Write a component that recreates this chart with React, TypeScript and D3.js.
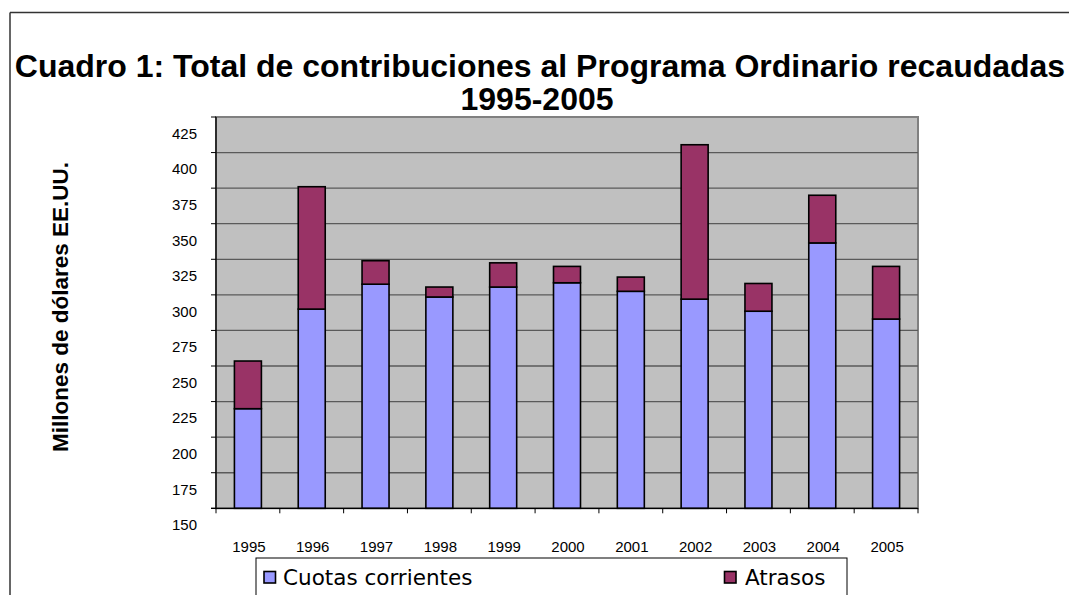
import React from "react";
import * as d3 from "d3";

const years = ["1995","1996","1997","1998","1999","2000","2001","2002","2003","2004","2005"];
const cuotas = [220, 290, 307.5, 298.5, 305.5, 308.5, 302.5, 297, 288.5, 336.5, 283];
const atrasos = [33.5, 86, 16.5, 7, 17, 11.5, 10, 108.5, 19.5, 33.5, 37];
const yTicks = [150, 175, 200, 225, 250, 275, 300, 325, 350, 375, 400, 425];
const seriesNames = ["Cuotas corrientes", "Atrasos"];
const colors = ["#9999FF", "#993366"];

const W = 1069, H = 595;
const plot = { left: 216, top: 117, right: 918, bottom: 508.3 };

export default function App() {
  const x = d3.scaleBand<string>().domain(years).range([plot.left, plot.right]).paddingInner(0.577).paddingOuter(0.2885);
  const y = d3.scaleLinear().domain([150, 425]).range([plot.bottom, plot.top]);
  const step = x.step();
  const font = "'Liberation Sans', Arial, sans-serif";
  const legendFont = "'DejaVu Sans', Verdana, sans-serif";
  const stacked = years.map((yr, i) => ({ yr, c: cuotas[i], a: atrasos[i] }));
  return (
    <svg width={W} height={H} style={{ position: "fixed", left: 0, top: 0, background: "#fff" }}>
      {/* outer frame */}
      <line x1={10} y1={12.5} x2={W} y2={12.5} stroke="#333" strokeWidth={1.5} />
      <line x1={10} y1={12.5} x2={10} y2={H} stroke="#333" strokeWidth={1.5} />
      {/* title */}
      <text x={540} y={77} textAnchor="middle" fontFamily={font} fontWeight="bold" fontSize={32} fill="#000">
        Cuadro 1: Total de contribuciones al Programa Ordinario recaudadas
      </text>
      <text x={537} y={110} textAnchor="middle" fontFamily={font} fontWeight="bold" fontSize={32} fill="#000">
        1995-2005
      </text>
      {/* plot background */}
      <rect x={plot.left} y={plot.top} width={plot.right - plot.left} height={plot.bottom - plot.top} fill="#C0C0C0" stroke="#808080" strokeWidth={2} />
      {/* gridlines */}
      {yTicks.slice(1, -1).map(t => (
        <line key={t} x1={plot.left} x2={plot.right} y1={y(t)} y2={y(t)} stroke="#5a5a5a" strokeWidth={1.3} />
      ))}
      {/* bars */}
      {stacked.map(d => (
        <g key={d.yr}>
          <rect x={x(d.yr)} y={y(d.c)} width={x.bandwidth()} height={y(150) - y(d.c)} fill={colors[0]} stroke="#000" strokeWidth={1.6} />
          <rect x={x(d.yr)} y={y(d.c + d.a)} width={x.bandwidth()} height={y(d.c) - y(d.c + d.a)} fill={colors[1]} stroke="#000" strokeWidth={1.6} />
        </g>
      ))}
      {/* y axis */}
      <line x1={plot.left} x2={plot.left} y1={plot.top} y2={plot.bottom} stroke="#000" strokeWidth={1.3} />
      {yTicks.map(t => (
        <g key={t}>
          <line x1={plot.left - 5} x2={plot.left} y1={y(t)} y2={y(t)} stroke="#000" strokeWidth={1} />
          <text x={197} y={y(t) + 16.6} dy="0.35em" textAnchor="end" fontFamily={font} fontSize={15} fill="#000">{t}</text>
        </g>
      ))}
      {/* x axis */}
      <line x1={plot.left - 5} x2={plot.right} y1={plot.bottom} y2={plot.bottom} stroke="#000" strokeWidth={1.3} />
      {d3.range(years.length + 1).map(i => (
        <line key={i} x1={plot.left + i * step} x2={plot.left + i * step} y1={plot.bottom} y2={plot.bottom + 5} stroke="#000" strokeWidth={1} />
      ))}
      {years.map(yr => (
        <text key={yr} x={(x(yr) ?? 0) + x.bandwidth() / 2 + 1} y={546.7} dy="0.35em" textAnchor="middle" fontFamily={font} fontSize={15} fill="#000">{yr}</text>
      ))}
      {/* y title */}
      <text transform="translate(68,307) rotate(-90)" textAnchor="middle" fontFamily={font} fontWeight="bold" fontSize={22.5} fill="#000">
        Millones de dólares EE.UU.
      </text>
      {/* legend */}
      <rect x={256} y={558} width={591} height={50} fill="#fff" stroke="#000" strokeWidth={1} />
      <rect x={264} y={571.5} width={11.5} height={11.5} fill={colors[0]} stroke="#000" strokeWidth={1.6} />
      <text x={283} y={584.5} fontFamily={legendFont} fontSize={21.5} fill="#000">{seriesNames[0]}</text>
      <rect x={724.5} y={571.5} width={11.5} height={11.5} fill={colors[1]} stroke="#000" strokeWidth={1.6} />
      <text x={745} y={584.5} fontFamily={legendFont} fontSize={21.5} fill="#000">{seriesNames[1]}</text>
    </svg>
  );
}
